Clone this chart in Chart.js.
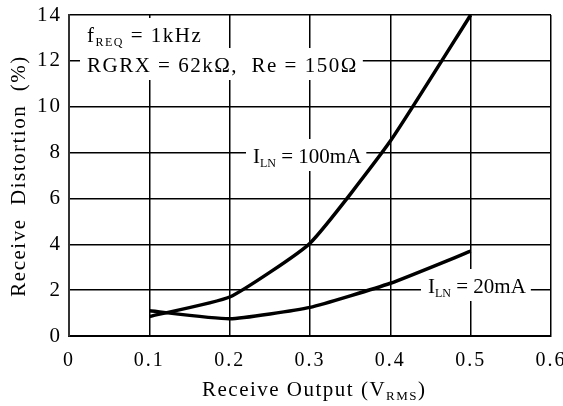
<!DOCTYPE html>
<html>
<head>
<meta charset="utf-8">
<script src="https://cdn.jsdelivr.net/npm/chart.js@4"></script>
<style>
  body { margin: 0; background: #fff; }
  #wrap { width: 563px; height: 406px; }
</style>
</head>
<body>
<div id="wrap"><canvas id="distChart" width="563" height="406"></canvas></div>
<script>
// Data
const outputV = [0.1, 0.2, 0.3, 0.4, 0.5];
const dist100mA = [0.85, 1.7, 4.05, 8.5, 14.0];
const dist20mA = [1.1, 0.75, 1.25, 2.3, 3.7];
const xTickLabels = ['0', '0.1', '0.2', '0.3', '0.4', '0.5', '0.6'];
const yTickLabels = ['0', '2', '4', '6', '8', '10', '12', '14'];

const SERIF = '"Liberation Serif", "Times New Roman", serif';

// draw text made of parts, some of them subscript
function richWidth(ctx, parts, size, sub) {
  let w = 0;
  parts.forEach(p => {
    ctx.font = (p.sub ? sub : size) + 'px ' + SERIF;
    w += ctx.measureText(p.t).width;
  });
  return w;
}
function drawRich(ctx, parts, x, y, size, sub) {
  parts.forEach(p => {
    ctx.font = (p.sub ? sub : size) + 'px ' + SERIF;
    ctx.fillText(p.t, x, p.sub ? y + 4 : y);
    x += ctx.measureText(p.t).width;
  });
}

const notes = [
  { parts: [{ t: 'f' }, { t: 'REQ', sub: true }, { t: ' = 1kHz' }], x: 87, y: 42, size: 21, sub: 12, spacing: '1.5px' },
  { parts: [{ t: 'RGRX = 62k\u03A9,  Re = 150\u03A9' }], x: 87, y: 72, size: 21, sub: 12, spacing: '1.5px' },
  { parts: [{ t: 'I' }, { t: 'LN', sub: true }, { t: ' = 100mA' }], x: 253, y: 163, size: 21, sub: 12, spacing: '0px' },
  { parts: [{ t: 'I' }, { t: 'LN', sub: true }, { t: ' = 20mA' }], x: 428, y: 293, size: 21, sub: 12, spacing: '0px' }
];

const labelPlugin = {
  id: 'labels',
  beforeDraw(chart) {
    chart.ctx.letterSpacing = '2px';
  },
  beforeDatasetsDraw(chart) {
    const ctx = chart.ctx;
    ctx.save();
    // white boxes that break the grid behind the labels
    notes.forEach(n => {
      ctx.letterSpacing = n.spacing;
      const w = richWidth(ctx, n.parts, n.size, n.sub);
      ctx.fillStyle = '#fff';
      ctx.fillRect(n.x - 7, n.y - 24, w + 12, 32);
    });
    ctx.fillStyle = '#000';
    ctx.textBaseline = 'alphabetic';
    ctx.textAlign = 'left';
    notes.forEach(n => {
      ctx.letterSpacing = n.spacing;
      drawRich(ctx, n.parts, n.x, n.y, n.size, n.sub);
    });
    ctx.restore();
  },
  afterDraw(chart) {
    const ctx = chart.ctx;
    ctx.save();
    ctx.fillStyle = '#000';
    ctx.textBaseline = 'alphabetic';
    ctx.textAlign = 'left';
    ctx.letterSpacing = '1.5px';
    // x axis title
    drawRich(ctx, [{ t: 'Receive Output (V' }, { t: 'RMS', sub: true }, { t: ')' }], 202, 396, 21, 13);
    // y axis title
    ctx.translate(25, 176);
    ctx.rotate(-Math.PI / 2);
    const yt = [{ t: 'Receive  Distortion  (%)' }];
    const w = richWidth(ctx, yt, 21, 13);
    drawRich(ctx, yt, -w / 2, 0, 21, 13);
    ctx.restore();
  }
};

const config = {
  type: 'line',
  data: {
    datasets: [
      {
        label: 'ILN = 100mA',
        data: outputV.map((v, i) => ({ x: v, y: dist100mA[i] })),
        borderColor: '#000',
        borderWidth: 3.5,
        pointRadius: 0,
        tension: 0.15
      },
      {
        label: 'ILN = 20mA',
        data: outputV.map((v, i) => ({ x: v, y: dist20mA[i] })),
        borderColor: '#000',
        borderWidth: 3.5,
        pointRadius: 0,
        tension: 0.15
      }
    ]
  },
  options: {
    responsive: false,
    animation: false,
    layout: { padding: { top: 15, right: 12, left: 0, bottom: 0 } },
    plugins: {
      legend: { display: false },
      tooltip: { enabled: false }
    },
    scales: {
      x: {
        type: 'linear',
        min: 0,
        max: 0.6,
        ticks: {
          stepSize: 0.1,
          padding: 13,
          color: '#000',
          font: { family: SERIF, size: 20 },
          callback: (v, i) => xTickLabels[i]
        },
        grid: { color: '#000', lineWidth: 1.5, drawTicks: false },
        border: { color: '#000', width: 2 },
        afterFit(s) { s.height = 70; s.paddingLeft = 0; s.paddingRight = 0; }
      },
      y: {
        min: 0,
        max: 14,
        ticks: {
          stepSize: 2,
          padding: 7,
          color: '#000',
          font: { family: SERIF, size: 21 },
          callback: (v, i) => yTickLabels[i]
        },
        grid: { color: '#000', lineWidth: 1.5, drawTicks: false },
        border: { color: '#333', width: 2 },
        afterFit(s) { s.width = 69; s.paddingTop = 0; s.paddingBottom = 0; }
      }
    }
  },
  plugins: [labelPlugin]
};

const distChart = new Chart(document.getElementById('distChart'), config);
</script>
</body>
</html>
